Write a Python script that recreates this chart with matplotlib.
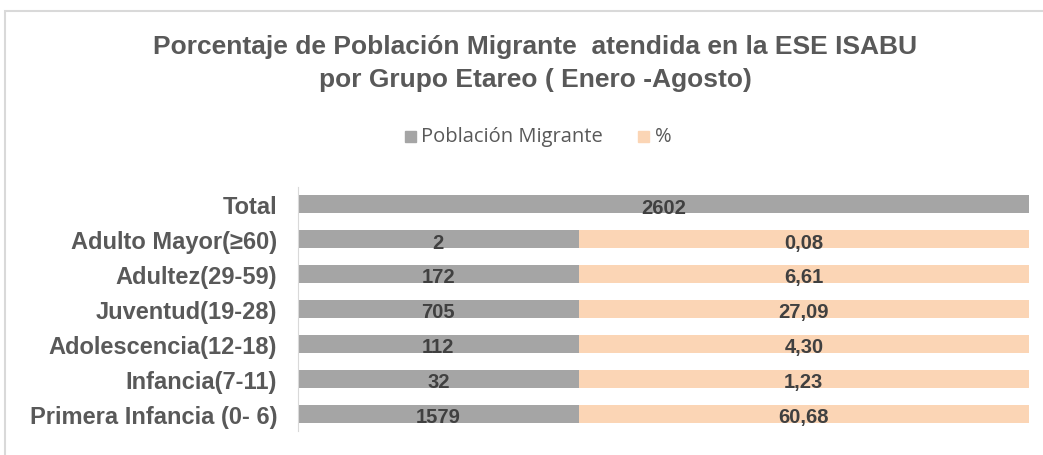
import matplotlib
matplotlib.use("Agg")
import matplotlib.pyplot as plt
from matplotlib.patches import Rectangle

categorias = ['Total', 'Adulto Mayor(≥60)', 'Adultez(29-59)', 'Juventud(19-28)',
              'Adolescencia(12-18)', 'Infancia(7-11)', 'Primera Infancia (0- 6)']
poblacion = [2602, 2, 172, 705, 112, 32, 1579]
porcentaje = [None, 0.08, 6.61, 27.09, 4.30, 1.23, 60.68]

gris = '#a5a5a5'
durazno = '#fbd5b5'
texto = '#595959'
num = '#404040'

# ancho visual de cada segmento (la grafica original no es proporcional)
parte_gris = 0.384

fig = plt.figure(figsize=(10.43, 4.56), dpi=100)
ax = fig.add_axes([298 / 1043, 1 - 432 / 456, 731 / 1043, 244 / 456])

for i, (cat, n, p) in enumerate(zip(categorias, poblacion, porcentaje)):
    if p is None:
        ax.barh(i, 1.0, height=0.52, color=gris)
        ax.text(0.5, i + 0.08, f'{n}', ha='center', va='center', fontsize=14.5,
                fontweight='bold', color=num, family='Liberation Sans')
    else:
        ax.barh(i, parte_gris, height=0.52, color=gris)
        ax.barh(i, 1 - parte_gris, left=parte_gris, height=0.52, color=durazno)
        ax.text(parte_gris / 2, i + 0.08, f'{n}', ha='center', va='center', fontsize=14.5,
                fontweight='bold', color=num, family='Liberation Sans')
        ax.text(parte_gris + (1 - parte_gris) / 2, i + 0.08, f'{p:.2f}'.replace('.', ','),
                ha='center', va='center', fontsize=14.5, fontweight='bold', color=num,
                family='Liberation Sans')

ax.set_xlim(0, 1)
ax.set_ylim(6.5, -0.5)
ax.set_yticks(range(len(categorias)))
ax.set_yticklabels(categorias, fontsize=17, fontweight='bold', color=texto,
                   family='Liberation Sans')
ax.tick_params(axis='y', length=0, pad=15)
ax.set_xticks([])
for s in ['top', 'right', 'bottom']:
    ax.spines[s].set_visible(False)
ax.spines['left'].set_color('#d9d9d9')

fig.text(535 / 1043, 1 - 47 / 456, 'Porcentaje de Población Migrante  atendida en la ESE ISABU',
         ha='center', va='center', fontsize=19, fontweight='bold', color=texto,
         family='Liberation Sans')
fig.text(535 / 1043, 1 - 80 / 456, 'por Grupo Etareo ( Enero -Agosto)',
         ha='center', va='center', fontsize=19, fontweight='bold', color=texto,
         family='Liberation Sans')

# leyenda
fig.patches.append(Rectangle((405 / 1043, 1 - 143 / 456), 11 / 1043, 11 / 456,
                             transform=fig.transFigure, color=gris))
fig.text(421 / 1043, 1 - 137 / 456, 'Población Migrante', ha='left', va='center',
         fontsize=14.5, color=texto, family='Open Sans')
fig.patches.append(Rectangle((638 / 1043, 1 - 143 / 456), 11 / 1043, 11 / 456,
                             transform=fig.transFigure, color=durazno))
fig.text(655 / 1043, 1 - 137 / 456, '%', ha='left', va='center',
         fontsize=14.5, color=texto, family='Open Sans')

# borde del area del grafico
fig.patches.append(Rectangle((5 / 1043, -0.1), 1.2, 1 - 12 / 456 + 0.1,
                             transform=fig.transFigure, fill=False,
                             edgecolor='#d9d9d9', linewidth=1.5))

fig.savefig('out.png', dpi=100)
